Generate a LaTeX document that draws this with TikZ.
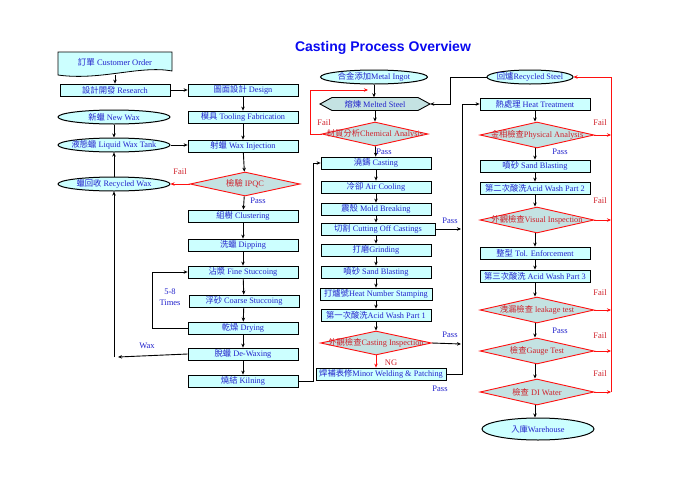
\documentclass[tikz,border=0pt]{standalone}
\usepackage{fontspec}
\setmainfont{Liberation Serif}
\newfontfamily\zhfont{Noto Sans CJK TC}
\newfontfamily\ttlfont{Liberation Sans}
\usepackage{tikz}
\usetikzlibrary{calc,arrows.meta,positioning,shapes.geometric}
\definecolor{boxc}{HTML}{CCFFFF}
\definecolor{chkc}{HTML}{C4E2E2}
\definecolor{inkc}{HTML}{2222CC}
\definecolor{failc}{HTML}{D0202A}
\definecolor{linec}{HTML}{FF1010}
\definecolor{ttlc}{HTML}{0A0AF0}
\newcommand{\zh}[1]{{\zhfont #1}}
\newcommand{\mk}[1]{\makebox[0pt]{#1}}
\tikzset{
  ar/.style={-{Stealth[length=4pt,width=3.5pt]},line width=0.9pt,black},
  rar/.style={-{Stealth[length=4pt,width=3.5pt]},line width=0.9pt,linec},
  box/.style={draw,line width=0.8pt,fill=boxc,minimum width=110pt,minimum height=12pt,inner sep=0pt,text=inkc,font=\fontsize{8.3}{9}\selectfont},
  oval/.style={ellipse,draw,line width=1pt,fill=boxc,minimum width=112pt,minimum height=14pt,inner sep=0pt,text=inkc,font=\fontsize{8.3}{9}\selectfont},
  chk/.style={diamond,draw=linec,line width=0.9pt,fill=chkc,minimum width=114pt,minimum height=26pt,inner sep=0pt,text=failc,font=\fontsize{8.3}{9}\selectfont},
  pss/.style={font=\fontsize{8.5}{9}\selectfont,inner sep=0pt,text=inkc},
  fl/.style={font=\fontsize{8.5}{9}\selectfont,inner sep=0pt,text=failc}
}
\begin{document}
\begin{tikzpicture}[x=1pt,y=-1pt]
\fill[white] (0,0) rectangle (678,480);
\useasboundingbox (0,0) rectangle (678,480);
\node[font=\ttlfont\bfseries\fontsize{14}{16}\selectfont,text=ttlc] (title) at (383,48) {Casting Process Overview};

% wax side
\draw[line width=0.8pt,fill=boxc] (58,52) -- (172,52) -- (172,71) .. controls (140,65) and (100,81) .. (58,75) -- cycle;
\node[pss] (order) at (115,62) {\zh{訂單} Customer Order};
\coordinate (orderb) at (115,75);
\node[box] (research) at (115,90) {\zh{設計開發} Research};
\node[oval] (newwax) at (114,117) {\mk{\zh{新蠟} New Wax}};
\node[oval] (liquid) at (114,145) {\mk{\zh{液態蠟} Liquid Wax Tank}};
\node[oval] (recwax) at (114,184) {\mk{\zh{蠟回收} Recycled Wax}};
\coordinate (waxbot) at (114,357);
\coordinate (waxtip) at (118,357);

\node[box] (design) at (243,90) {\zh{圖面設計} Design};
\node[box] (tooling) at (243,117) {\zh{模具} Tooling Fabrication};
\node[box] (inject) at (243,146) {\zh{射蠟} Wax Injection};
\node[chk,minimum width=110pt,minimum height=24pt] (ipqc) at (245,184) {\mk{\zh{檢驗} IPQC}};
\node[box] (cluster) at (243,216) {\zh{組樹} Clustering};
\node[box] (dip) at (243,245) {\zh{洗蠟} Dipping};
\node[box] (fine) at (243,272) {\zh{沾漿} Fine Stuccoing};
\node[box] (coarse) at (244,301) {\zh{浮砂} Coarse Stuccoing};
\node[box] (dry) at (243,328) {\zh{乾燥} Drying};
\node[box] (dewax) at (243,354) {\zh{脫蠟} De-Waxing};
\node[box] (kiln) at (243,381) {\zh{燒結} Kilning};

\draw[ar] (orderb) -- (research);
\draw[ar] (research) -- (design);
\draw[ar] (design) -- (tooling);
\draw[ar] (tooling) -- (inject);
\draw[ar] (newwax) -- (liquid);
\draw[ar] (recwax) -- (liquid);
\draw[ar] (liquid) -- (liquid -| inject.west);
\draw[ar] (inject) -- (ipqc);
\draw[rar] (ipqc) -- (recwax);
\node[fl] at (180,172) {Fail};
\draw[ar] (ipqc) -- (cluster);
\node[pss] at (258,201) {Pass};
\draw[ar] (cluster) -- (dip);
\draw[ar] (dip) -- (fine);
\draw[ar] (fine) -- (coarse);
\draw[ar] (coarse) -- (dry);
\draw[ar] (dry) -- (dewax);
\draw[ar] (dewax) -- (kiln);
\draw[ar] (dry.west) -- ++(-35,0) |- (fine.west);
\node[pss,align=center] at (170,297) {5-8\\[2pt]Times};
\draw[ar] (dewax.west) -- (waxtip);
\node[pss] at (147,346) {Wax};
\draw[ar] (waxbot) -- (recwax);

% steel side
\draw[line width=0.9pt,fill=chkc] (320,104) -- (332,97.5) -- (418,97.5) -- (430,104) -- (418,110.5) -- (332,110.5) -- cycle;
\node[pss,minimum width=110pt,minimum height=13pt,font=\fontsize{8.3}{9}\selectfont] (melt) at (375,104) {\zh{熔煉} Melted Steel};
\node[oval,minimum width=107pt] (ingot) at (374,77) {\mk{\zh{合金添加}Metal Ingot}};
\node[chk,minimum width=106pt,minimum height=24pt] (chem) at (375,134) {\mk{\zh{材質分析}Chemical Analysis}};
\node[box] (cast) at (376,163) {\zh{澆鑄} Casting};
\node[box] (cool) at (376,187) {\zh{冷卻} Air Cooling};
\node[box] (mold) at (376,209) {\zh{震殼} Mold Breaking};
\node[box,minimum width=114pt] (cut) at (378,229) {\zh{切割} Cutting Off Castings};
\node[box] (grind) at (376,250) {\zh{打磨}Grinding};
\node[box] (sand) at (376,272) {\zh{噴砂} Sand Blasting};
\node[box,minimum width=112pt] (stamp) at (376,294) {\zh{打爐號}Heat Number Stamping};
\node[box] (acida) at (376,315) {\zh{第一次酸洗}Acid Wash Part 1};
\node[chk,minimum width=111pt,minimum height=24pt] (insp) at (376,343) {\mk{\zh{外觀檢查}Casting Inspection}};
\node[box,minimum width=130pt] (weld) at (381,374) {\zh{焊補表修}Minor Welding \& Patching};
\coordinate (chemin) at (368,90);
\coordinate (cuttip) at (461,229);
\coordinate (insptip) at (461,344);

\draw[ar] (ingot) -- (ingot |- melt.north);
\draw[ar] (melt.south -| chem) -- (chem);
\draw[rar] (chem.west) -- ++(-11,0) |- (chemin);
\node[fl] at (324,123) {Fail};
\draw[ar] (chem) -- (cast);
\node[pss] at (384,152) {Pass};
\draw[ar] (cast) -- (cool);
\draw[ar] (cool) -- (mold);
\draw[ar] (mold) -- (mold |- cut.north);
\draw[ar] (mold |- cut.south) -- (grind);
\draw[ar] (grind) -- (sand);
\draw[ar] (sand) -- (stamp);
\draw[ar] (stamp) -- (acida);
\draw[ar] (acida) -- (insp);
\draw[rar] (insp) -- (insp |- weld.north);
\node[fl] at (391,363) {NG};
\draw[ar] (cut.east) -- (cuttip);
\node[pss] at (450,221) {Pass};
\draw[ar] (insp.east) -- (insptip);
\node[pss] at (450,335) {Pass};
\node[pss] at (440,389) {Pass};
\draw[ar] (kiln.east) -- ++(15,0) |- (cast.west);

% finishing side
\node[oval,minimum width=86pt] (recsteel) at (530,77) {\mk{\zh{回爐}Recycled Steel}};
\node[box] (heat) at (535,104) {\zh{熱處理} Heat Treatment};
\node[chk] (phys) at (537,135) {\mk{\zh{金相檢查}Physical Analysis}};
\node[box] (sandb) at (535,166) {\zh{噴砂} Sand Blasting};
\node[box] (acidb) at (535,188) {\zh{第二次酸洗}Acid Wash Part 2};
\node[chk] (vis) at (537,220) {\mk{\zh{外觀檢查}Visual Inspection}};
\node[box] (tol) at (535,253) {\zh{整型} Tol. Enforcement};
\node[box] (acidc) at (535,276) {\zh{第三次酸洗} Acid Wash Part 3};
\node[chk] (leak) at (537,310) {\mk{\zh{洩漏檢查} leakage test}};
\node[chk] (gauge) at (537,351) {\mk{\zh{檢查}Gauge Test}};
\node[chk] (diw) at (537,392) {\mk{\zh{檢查} DI Water}};
\node[oval,minimum width=112pt,minimum height=22pt] (ware) at (538,429) {\mk{\zh{入庫}Warehouse}};
\coordinate (rx) at (611,0);

\draw[ar] (recsteel.west) -- ++(-36,0) |- (melt.east);
\draw[ar] (weld.east) -- ++(16,0) |- (heat.west);
\draw[ar] (heat) -- (heat |- phys.north);
\draw[ar] (heat |- phys.south) -- (sandb);
\node[pss] at (560,152) {Pass};
\draw[ar] (sandb) -- (acidb);
\draw[ar] (acidb) -- (acidb |- vis.north);
\draw[ar] (acidb |- vis.south) -- (tol);
\draw[ar] (tol) -- (acidc);
\draw[ar] (acidc) -- (acidc |- leak.north);
\draw[ar] (acidc |- leak.south) -- (acidc |- gauge.north);
\node[pss] at (560,331) {Pass};
\draw[ar] (acidc |- gauge.south) -- (acidc |- diw.north);
\draw[ar] (acidc |- diw.south) -- (acidc |- ware.north);
\draw[rar] (rx |- diw.east) -- (rx |- recsteel.east) -- (recsteel.east);
\draw[rar] (phys.east) -- (rx |- phys.east);
\draw[rar] (vis.east) -- (rx |- vis.east);
\draw[rar] (leak.east) -- (rx |- leak.east);
\draw[rar] (gauge.east) -- (rx |- gauge.east);
\draw[rar] (diw.east) -- (rx |- diw.east);
\node[fl] at (600,123) {Fail};
\node[fl] at (600,201) {Fail};
\node[fl] at (600,293) {Fail};
\node[fl] at (600,336) {Fail};
\node[fl] at (600,374) {Fail};
\end{tikzpicture}
\end{document}
